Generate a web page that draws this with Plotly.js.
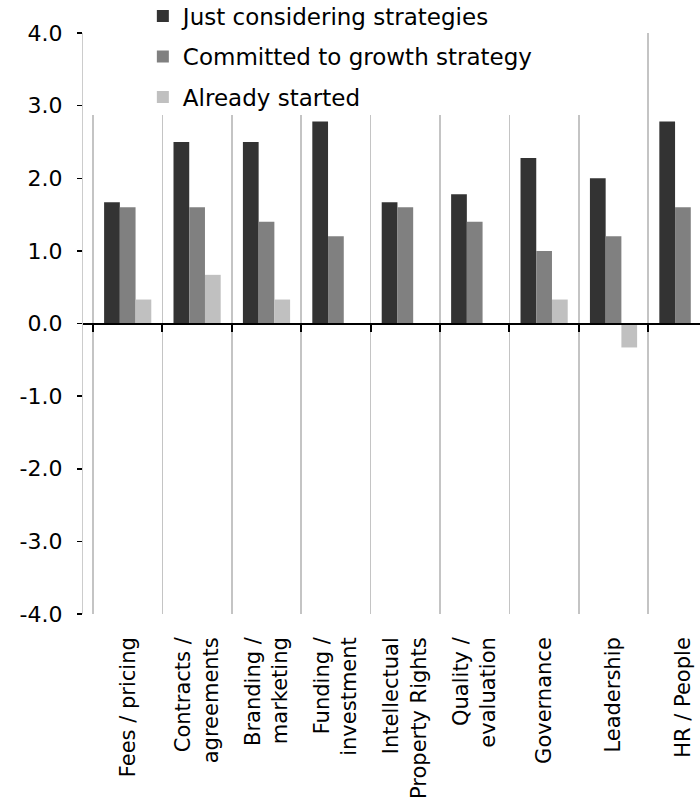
<!DOCTYPE html>
<html>
<head>
<meta charset="utf-8">
<script src="https://cdn.plot.ly/plotly-3.0.1.min.js"></script>
<style>
  html, body { margin: 0; padding: 0; background: #ffffff; }
  #chart { width: 700px; height: 799px; }
</style>
</head>
<body>
<div id="chart"></div>
<script>
// Growth-strategy areas, with one bar per stage of strategy adoption
const categories = [
  'Fees / pricing',
  'Contracts /<br>agreements',
  'Branding /<br>marketing',
  'Funding /<br>investment',
  'Intellectual<br>Property Rights',
  'Quality /<br>evaluation',
  'Governance',
  'Leadership',
  'HR / People'
];

const seriesNames = [
  'Just considering strategies',
  'Committed to growth strategy',
  'Already started'
];

const justConsidering = [1.67, 2.5, 2.5, 2.78, 1.67, 1.78, 2.28, 2.0, 2.78];
const committed      = [1.6, 1.6, 1.4, 1.2, 1.6, 1.4, 1.0, 1.2, 1.6];
const alreadyStarted = [0.33, 0.67, 0.33, 0, 0, 0, 0.33, -0.33, 0];

const seriesColors = ['#333333', '#808080', '#c0c0c0'];

const yTickValues = [-4, -3, -2, -1, 0, 1, 2, 3, 4];
// plain hyphen for negatives, one decimal place
const yTickLabels = yTickValues.map(v => v.toFixed(1));

const FONT = 'DejaVu Sans, Verdana, sans-serif';

const seriesValues = [justConsidering, committed, alreadyStarted];

const traces = seriesValues.map((vals, i) => ({
  type: 'bar',
  name: seriesNames[i],
  x: categories,
  y: vals,
  marker: { color: seriesColors[i], line: { width: 0 } },
  legendgroup: 'g' + i,
  hoverinfo: 'x+y'
}));

// Category axis drawn through zero (line + boundary ticks only)
traces.push({
  type: 'scatter',
  mode: 'none',
  x: categories,
  y: categories.map(() => null),
  xaxis: 'x2',
  yaxis: 'y',
  showlegend: false,
  hoverinfo: 'skip'
});

const xRange = [-0.644, 8.246];

const layout = {
  width: 700,
  height: 799,
  margin: { l: 83, r: 0, t: 33, b: 185, autoexpand: false },
  paper_bgcolor: '#ffffff',
  plot_bgcolor: '#ffffff',
  font: { family: FONT, color: '#000000' },
  barmode: 'group',
  bargap: 0.32,
  bargroupgap: 0,
  showlegend: true,
  legend: {
    x: 0.097,
    xanchor: 'left',
    y: 1.066,
    yanchor: 'top',
    bgcolor: 'rgba(255,255,255,0)',
    borderwidth: 0,
    font: { family: FONT, size: 23, color: '#000000' },
    tracegroupgap: 7.5,
    traceorder: 'grouped',
    itemwidth: 30
  },
  xaxis: {
    type: 'category',
    categoryorder: 'array',
    categoryarray: categories,
    range: xRange,
    tickson: 'boundaries',
    showgrid: true,
    gridcolor: '#c4c4c4',
    gridwidth: 1.5,
    showline: false,
    zeroline: false,
    ticks: '',
    tickangle: -90,
    ticklabelstandoff: 18,
    tickfont: { family: FONT, size: 21, color: '#000000' },
    automargin: false,
    fixedrange: true
  },
  xaxis2: {
    type: 'category',
    categoryorder: 'array',
    categoryarray: categories,
    range: xRange,
    overlaying: 'x',
    anchor: 'free',
    position: 0.5,
    side: 'bottom',
    tickson: 'boundaries',
    showgrid: false,
    showline: true,
    linecolor: '#000000',
    linewidth: 2,
    ticks: 'outside',
    ticklen: 7,
    tickwidth: 2,
    tickcolor: '#000000',
    showticklabels: false,
    zeroline: false,
    fixedrange: true
  },
  yaxis: {
    range: [-4, 4],
    tickvals: yTickValues,
    ticktext: yTickLabels,
    showgrid: false,
    zeroline: false,
    showline: true,
    linecolor: '#cccccc',
    linewidth: 1.2,
    ticks: 'outside',
    ticklen: 5,
    tickwidth: 1.5,
    tickcolor: '#000000',
    ticklabelstandoff: 10,
    tickfont: { family: FONT, size: 22, color: '#000000' },
    automargin: false,
    fixedrange: true
  },
  shapes: [
    {
      // white panel behind the legend
      type: 'rect',
      xref: 'paper', yref: 'paper',
      x0: 0.006, x1: 0.9,
      y0: 0.859, y1: 1.1,
      fillcolor: '#ffffff',
      line: { width: 0 },
      layer: 'above'
    }
  ]
};

Plotly.newPlot('chart', traces, layout, { displayModeBar: false, staticPlot: true });
</script>
</body>
</html>
